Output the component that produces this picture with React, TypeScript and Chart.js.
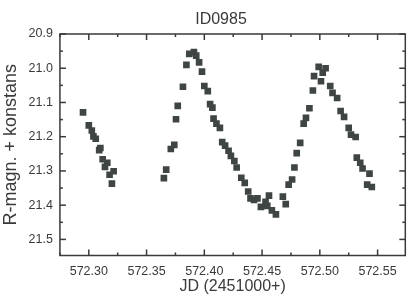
import React, { useEffect, useRef } from "react";
import { Chart, registerables } from "chart.js";

Chart.register(...registerables);

const TITLE = "ID0985";
const X_TITLE = "JD (2451000+)";
const Y_TITLE = "R-magn. + konstans";

const jd = [
  572.295, 572.300, 572.3026, 572.304, 572.306, 572.309, 572.310, 572.312, 572.316, 572.314, 572.318, 572.3215, 572.320,
  572.365, 572.367, 572.371, 572.374, 572.3755, 572.377, 572.3815, 572.3845, 572.387, 572.391, 572.393, 572.3955,
  572.398, 572.400, 572.403, 572.405, 572.407, 572.408, 572.4105, 572.4135, 572.4155, 572.418, 572.421, 572.423,
  572.426, 572.428, 572.432, 572.435, 572.438, 572.440, 572.443, 572.446, 572.449, 572.453, 572.4545, 572.456,
  572.4585, 572.462, 572.468, 572.4705, 572.473, 572.476, 572.478, 572.480, 572.483, 572.486, 572.488, 572.491,
  572.494, 572.495, 572.499, 572.501, 572.5025, 572.505, 572.509, 572.511, 572.515, 572.518, 572.521, 572.525,
  572.527, 572.531, 572.532, 572.535, 572.537, 572.543, 572.541, 572.545,
];

const mag = [
  21.129, 21.167, 21.182, 21.199, 21.206, 21.239, 21.233, 21.266, 21.276, 21.288, 21.311, 21.301, 21.337,
  21.321, 21.296, 21.236, 21.224, 21.149, 21.110, 21.054, 20.990, 20.958, 20.953, 20.963, 20.983,
  21.010, 21.052, 21.067, 21.105, 21.115, 21.147, 21.162, 21.174, 21.216, 21.226, 21.241, 21.256,
  21.271, 21.290, 21.320, 21.335, 21.360, 21.380, 21.385, 21.380, 21.405, 21.390, 21.402, 21.372,
  21.415, 21.427, 21.375, 21.397, 21.340, 21.325, 21.290, 21.248, 21.218, 21.162, 21.145, 21.117,
  21.065, 21.023, 20.996, 21.038, 21.013, 21.000, 21.052, 21.072, 21.087, 21.125, 21.142, 21.174,
  21.194, 21.201, 21.261, 21.276, 21.293, 21.308, 21.340, 21.347,
];

const xTicks = [572.3, 572.35, 572.4, 572.45, 572.5, 572.55];
const yTicks = [20.9, 21.0, 21.1, 21.2, 21.3, 21.4, 21.5];
const X_MIN = 572.275;
const X_MAX = 572.574;
const Y_MIN = 20.9;
const Y_MAX = 21.547;

const INK = "#3a3a3a";
const FONT = '"Liberation Sans", Arial, sans-serif';

const framePlugin = {
  id: "frame",
  afterDraw(chart: any) {
    const { ctx, chartArea: a, scales } = chart;
    const xs = scales.x;
    const ys = scales.y;
    ctx.save();
    ctx.strokeStyle = INK;
    ctx.lineWidth = 1.5;
    ctx.strokeRect(a.left, a.top, a.right - a.left, a.bottom - a.top);
    const line = (x1: number, y1: number, x2: number, y2: number) => {
      ctx.beginPath();
      ctx.moveTo(x1, y1);
      ctx.lineTo(x2, y2);
      ctx.stroke();
    };
    const xTick = (v: number, len: number) => {
      const px = xs.getPixelForValue(v);
      if (px < a.left - 0.5 || px > a.right + 0.5) return;
      line(px, a.bottom, px, a.bottom - len);
      line(px, a.top, px, a.top + len);
    };
    const yTick = (v: number, len: number) => {
      const py = ys.getPixelForValue(v);
      if (py < a.top - 0.5 || py > a.bottom + 0.5) return;
      line(a.left, py, a.left + len, py);
      line(a.right, py, a.right - len, py);
    };
    xTicks.forEach((v) => xTick(v, 6));
    yTicks.forEach((v) => yTick(v, 6));
    const xs2 = xTicks[1] - xTicks[0];
    for (let v = xTicks[0] - xs2 / 2; v <= X_MAX; v += xs2) xTick(v, 3);
    const ys2 = yTicks[1] - yTicks[0];
    for (let v = yTicks[0] + ys2 / 2; v <= Y_MAX; v += ys2) yTick(v, 3);

    ctx.fillStyle = INK;
    ctx.font = `16px ${FONT}`;
    ctx.textAlign = "center";
    ctx.textBaseline = "middle";
    ctx.fillText(TITLE, 221, 19.5);
    ctx.restore();
  },
};

export default function App() {
  const ref = useRef<HTMLCanvasElement | null>(null);
  useEffect(() => {
    if (!ref.current) return;
    const points = jd.map((x, i) => ({ x, y: mag[i] }));
    const chart = new Chart(ref.current, {
      type: "scatter",
      data: {
        datasets: [
          {
            data: points,
            pointStyle: "rect",
            pointRadius: 4.7,
            pointBorderWidth: 0,
            backgroundColor: "#3f4543",
            borderColor: "#3f4543",
          },
        ],
      },
      options: {
        animation: false,
        responsive: true,
        maintainAspectRatio: false,
        layout: { padding: { top: 34, right: 1, bottom: 0, left: 0 } },
        plugins: {
          legend: { display: false },
          tooltip: { enabled: false },
          title: { display: false },
        },
        scales: {
          x: {
            type: "linear",
            min: X_MIN,
            max: X_MAX,
            grid: { display: false, drawTicks: false },
            border: { display: false },
            afterBuildTicks: (s: any) => {
              s.ticks = xTicks.map((value) => ({ value }));
            },
            ticks: {
              autoSkip: false,
              maxRotation: 0,
              padding: 8.5,
              color: INK,
              font: { family: FONT, size: 12.5 },
              callback: (v: any) => Number(v).toFixed(2),
            },
            title: {
              display: true,
              text: X_TITLE,
              color: INK,
              font: { family: FONT, size: 16 },
              padding: { top: -11, bottom: 3.3 },
            },
          },
          y: {
            type: "linear",
            reverse: true,
            min: Y_MIN,
            max: Y_MAX,
            grid: { display: false, drawTicks: false },
            border: { display: false },
            afterBuildTicks: (s: any) => {
              s.ticks = yTicks.map((value) => ({ value }));
            },
            ticks: {
              padding: 7,
              color: INK,
              font: { family: FONT, size: 12.5 },
              callback: (v: any) => Number(v).toFixed(1),
            },
            title: {
              display: true,
              text: Y_TITLE,
              color: INK,
              font: { family: FONT, size: 18 },
              padding: { top: 0, bottom: 0 },
            },
          },
        },
      },
      plugins: [framePlugin],
    });
    return () => chart.destroy();
  }, []);
  return (
    <div style={{ position: "fixed", left: 0, top: 0, width: 410, height: 299, background: "#fff" }}>
      <canvas ref={ref} />
    </div>
  );
}
